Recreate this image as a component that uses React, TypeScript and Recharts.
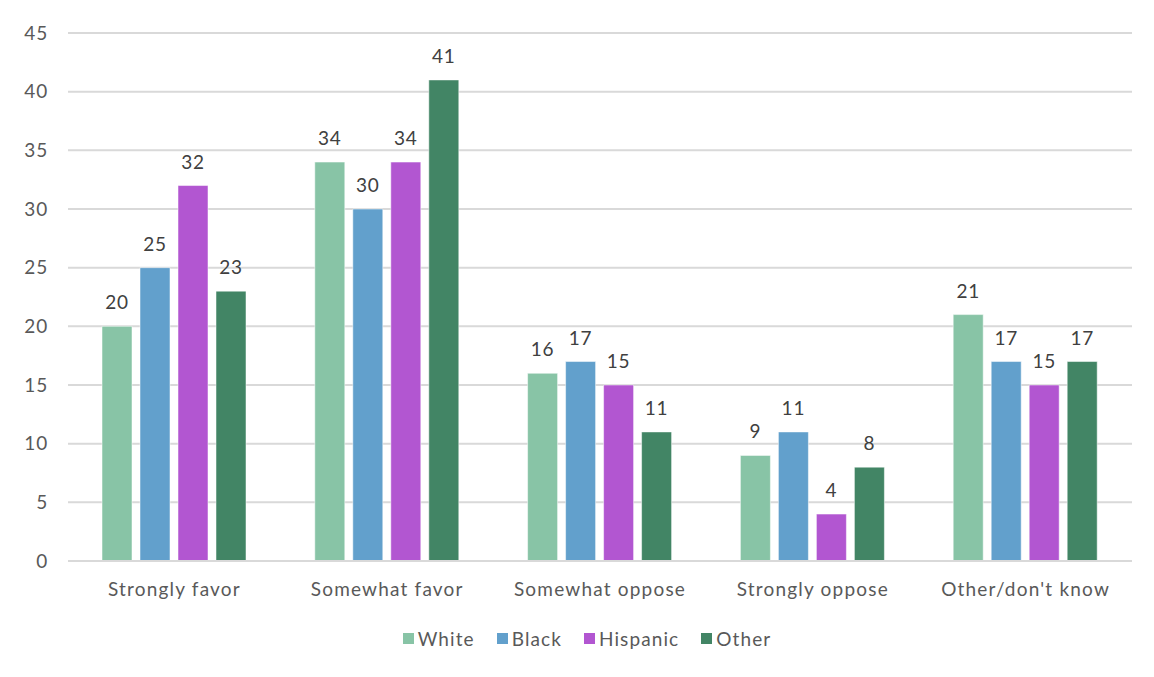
import React from "react";
import { BarChart, Bar, XAxis, YAxis, CartesianGrid, Legend, LabelList } from "recharts";

// Survey responses by race/ethnicity (percent)
const categories = ["Strongly favor", "Somewhat favor", "Somewhat oppose", "Strongly oppose", "Other/don't know"];
const white = [20, 34, 16, 9, 21];
const black = [25, 30, 17, 11, 17];
const hispanic = [32, 34, 15, 4, 15];
const other = [23, 41, 11, 8, 17];
const yTicks = [0, 5, 10, 15, 20, 25, 30, 35, 40, 45];

const series = [
  { key: "White", values: white, color: "#88c4a6" },
  { key: "Black", values: black, color: "#62a0cc" },
  { key: "Hispanic", values: hispanic, color: "#b256d1" },
  { key: "Other", values: other, color: "#428565" },
];

const data = categories.map((name, i) => {
  const row: Record<string, string | number> = { name };
  series.forEach((s) => {
    row[s.key] = s.values[i];
  });
  return row;
});

const FONT = "Lato, 'Open Sans', sans-serif";
const TEXT = "#595959";
const GRID = "#d9d9d9";

const LegendContent = () => (
  <div
    style={{
      display: "flex",
      justifyContent: "center",
      gap: 22,
      fontFamily: FONT,
      fontSize: 19,
      color: TEXT,
      letterSpacing: 1.1,
      paddingLeft: 42,
      paddingTop: 6,
    }}
  >
    {series.map((s) => (
      <div key={s.key} style={{ display: "flex", alignItems: "center" }}>
        <span style={{ display: "inline-block", width: 11, height: 11, background: s.color, marginRight: 4 }} />
        <span>{s.key}</span>
      </div>
    ))}
  </div>
);

export default function App() {
  return (
    <div style={{ position: "relative", margin: -8, width: 1154, height: 677, overflow: "hidden", background: "#fff" }}>
      <div
        style={{
          position: "absolute",
          left: 5,
          top: 5,
          width: 1170,
          height: 690,
          border: `2px solid ${GRID}`,
          boxSizing: "border-box",
        }}
      />
      <div style={{ position: "absolute", left: 0, top: 0 }}>
        <BarChart
          width={1154}
          height={677}
          data={data}
          margin={{ top: 33, right: 22, left: 0, bottom: 10 }}
          barSize={30}
          barGap={8}
        >
          <CartesianGrid vertical={false} stroke={GRID} strokeWidth={2} />
          <YAxis
            width={68}
            domain={[0, 45]}
            ticks={yTicks}
            interval={0}
            axisLine={false}
            tickLine={false}
            tickMargin={14}
            tick={{ fill: TEXT, fontSize: 19, fontFamily: FONT, letterSpacing: 0.8 }}
          />
          <XAxis
            dataKey="name"
            height={60}
            axisLine={{ stroke: GRID, strokeWidth: 2 }}
            tickLine={false}
            tickMargin={16}
            tick={{ fill: TEXT, fontSize: 19, fontFamily: FONT, letterSpacing: 1.2 }}
          />
          <Legend verticalAlign="bottom" height={46} content={<LegendContent />} />
          {series.map((s) => (
            <Bar
              key={s.key}
              dataKey={s.key}
              fill={s.color}
              stroke="#ffffff"
              strokeOpacity={0.5}
              strokeWidth={1}
              isAnimationActive={false}
            >
              <LabelList
                dataKey={s.key}
                position="top"
                offset={17}
                fill="#404040"
                fontSize={19}
                fontFamily={FONT}
                letterSpacing={0.8}
              />
            </Bar>
          ))}
        </BarChart>
      </div>
    </div>
  );
}
